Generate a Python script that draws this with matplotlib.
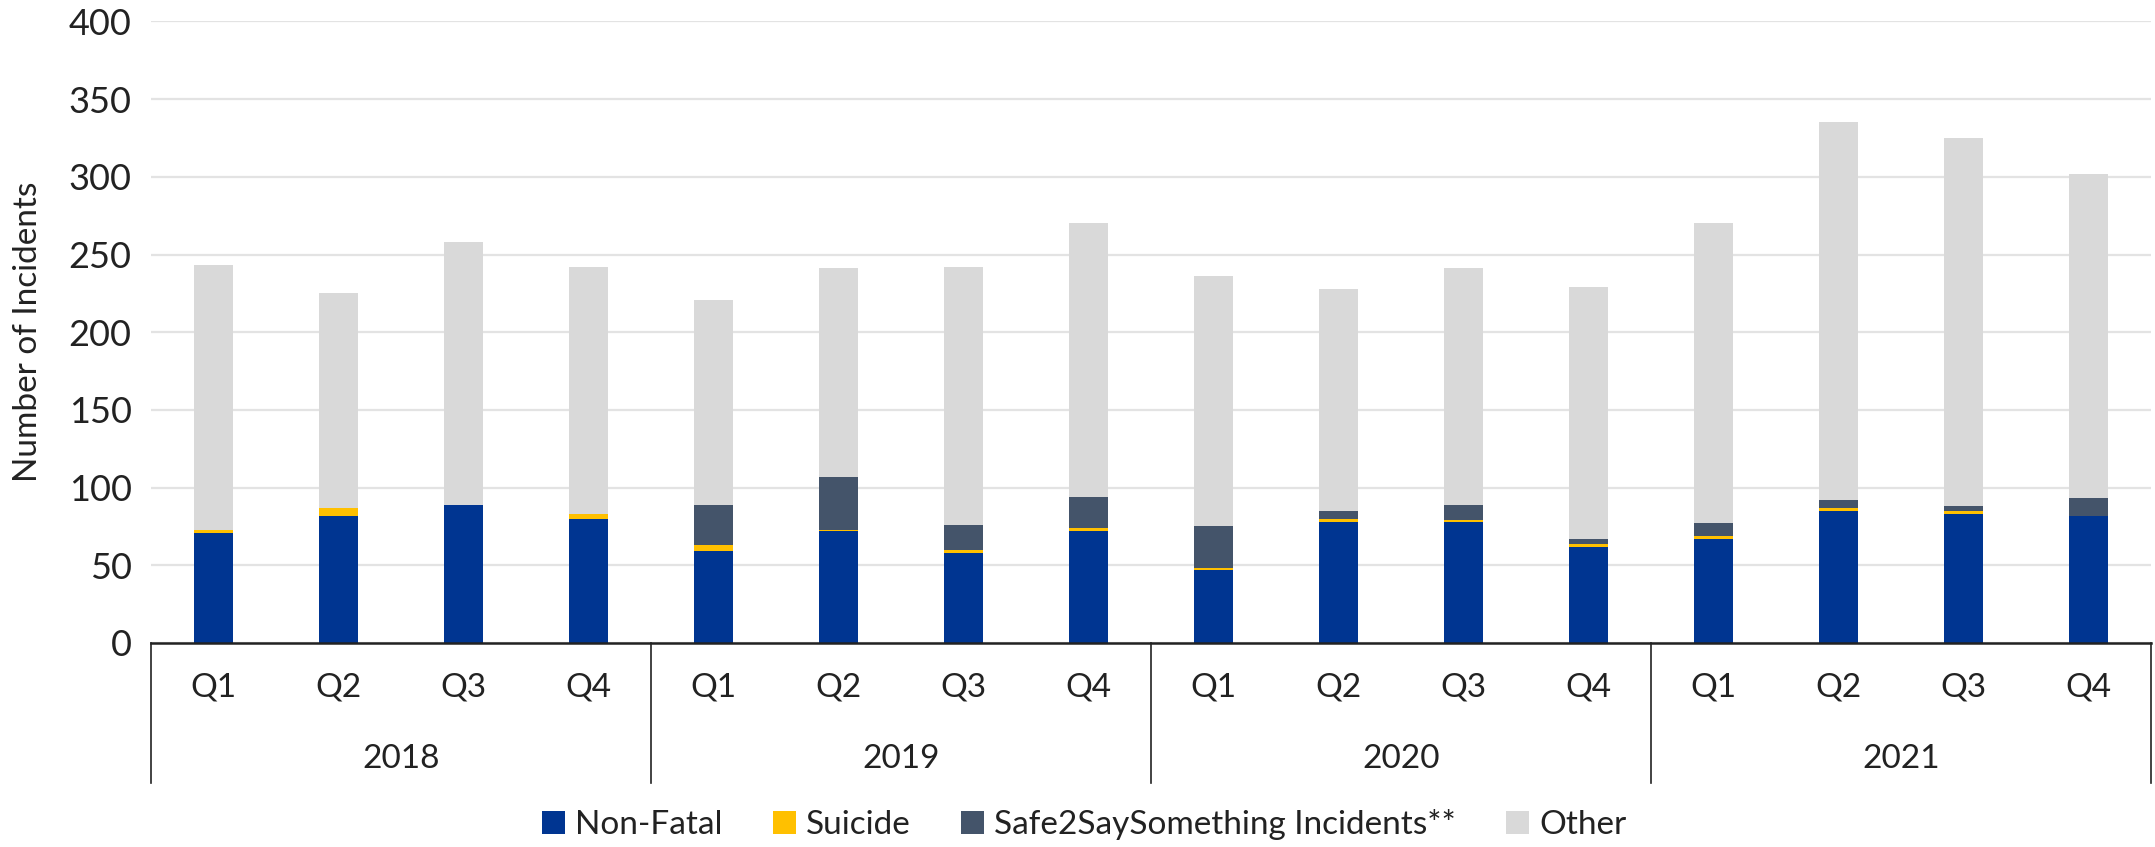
import numpy as np
import matplotlib.pyplot as plt

# quarterly incident counts
years = ["2018", "2019", "2020", "2021"]
quarters = ["Q1", "Q2", "Q3", "Q4"]
totals = [243, 225, 258, 242, 221, 241, 242, 270, 236, 228, 241, 229, 270, 335, 325, 302]
non_fatal = [71, 82, 89, 80, 59, 72, 58, 72, 47, 78, 78, 62, 67, 85, 83, 82]
suicide = [2, 5, 0, 3, 4, 1, 2, 2, 1, 2, 1, 2, 2, 2, 2, 0]
safe2say = [0, 0, 0, 0, 26, 34, 16, 20, 27, 5, 10, 3, 8, 5, 3, 11]
other = [t - a - b - c for t, a, b, c in zip(totals, non_fatal, suicide, safe2say)]

series = ["Non-Fatal", "Suicide", "Safe2SaySomething Incidents**", "Other"]
colors = ["#003591", "#FFC000", "#44546A", "#D9D9D9"]

plt.rcParams["font.family"] = ["Lato", "DejaVu Sans"]

fig = plt.figure(figsize=(21.55, 8.47), dpi=100)
ax = fig.add_axes([0.0701, 0.2409, 0.9281, 0.7338])

x = np.arange(len(totals))
bottom = np.zeros(len(totals))
for name, vals, col in zip(series, [non_fatal, suicide, safe2say, other], colors):
    ax.bar(x, vals, width=0.31, bottom=bottom, color=col, label=name, zorder=3)
    bottom += np.array(vals)

ax.set_xlim(-0.5, len(totals) - 0.5)
ax.set_ylim(0, 400)
ax.set_yticks(range(0, 401, 50))
ax.tick_params(axis="y", length=0, labelsize=26, pad=14, labelcolor="#222222")
ax.yaxis.grid(True, color="#E3E3E3", lw=1.6, zorder=0)
ax.set_ylabel("Number of Incidents", fontsize=24, color="#222222")
ax.yaxis.set_label_coords(-0.054, 0.5)

for s in ["top", "left", "right"]:
    ax.spines[s].set_visible(False)
ax.spines["bottom"].set_color("#222222")
ax.spines["bottom"].set_linewidth(1.8)
ax.spines["bottom"].set_zorder(4)

# two-level category axis
ax.set_xticks([])
tr = ax.get_xaxis_transform()
for i in x:
    ax.text(i, -0.072, quarters[i % 4], transform=tr, ha="center", va="center",
            fontsize=24, color="#222222")
for k, yr in enumerate(years):
    ax.text(4 * k + 1.5, -0.186, yr, transform=tr, ha="center", va="center",
            fontsize=24, color="#222222")
for b in np.arange(-0.5, len(totals), 4):
    ax.plot([b, b], [0, -0.225], transform=tr, color="#222222", lw=1.2, clip_on=False)

fig.legend(loc="center", bbox_to_anchor=(0.503, 0.026), ncol=4, frameon=False,
           fontsize=24, handlelength=0.7, handleheight=0.7, handletextpad=0.3,
           columnspacing=1.5, labelcolor="#222222")

fig.savefig("out.png", dpi=100)
